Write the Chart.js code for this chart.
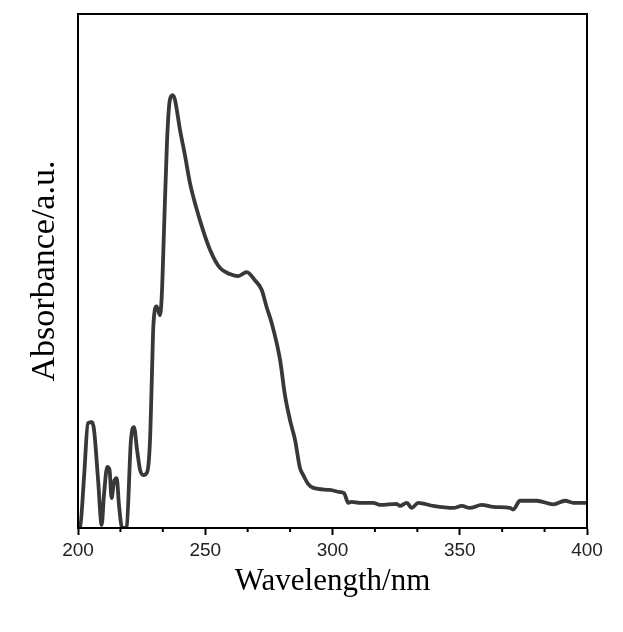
<!DOCTYPE html>
<html>
<head>
<meta charset="utf-8">
<script src="https://cdn.jsdelivr.net/npm/chart.js@4.4.1/dist/chart.umd.min.js"></script>
<style>
    body { margin: 0; background: #fff; }
    #wrap { width: 623px; height: 632px; }
</style>
</head>
<body>
<div id="wrap"><canvas id="absChart" width="623" height="632"></canvas></div>
<script>
const wavelength = [200, 200.8, 202.4, 203.9, 205.5, 206.3, 207.9, 209.3, 210.2, 211.5, 212.4, 213.2, 214.1, 215.2,
    216.1, 217.2, 218.1, 219.1, 220.8, 222.0, 223.2, 224.4, 225.7, 227.2, 228.3, 229.1, 229.6, 230.9, 232.2, 232.9,
    233.8, 235.0, 236.1, 237.2, 238.1, 240.1, 242.0, 244.0, 247.9, 251.9, 255.8, 259.7, 263.0, 266.3, 269.5, 272.2,
    274.1, 276.1, 279.4, 281.3, 283.3, 285.3, 287.2, 288.5, 290.4, 292.5, 299.0, 302.9, 304.5, 306.2, 307.5, 310.8,
    315.9, 318.7, 325.2, 326.5, 329.2, 331.1, 333.7, 339.6, 347.5, 350.8, 354.0, 358.6, 363.2, 369.7, 371.0, 373.7,
    380.2, 386.8, 391.4, 394.6, 399.2, 400];
const absorbance = [0, 0.2, 10.1, 20.4, 20.6, 19.1, 9.3, 0.6, 6.4, 11.9, 11.3, 5.8, 8.9, 9.7,
    4.5, 0.2, 0, 0.2, 17.1, 19.6, 15.2, 11.3, 10.3, 10.9, 17.1, 30.7, 39.2, 43.1, 41.4, 45.0,
    58.0, 75.5, 83.3, 84.2, 83.3, 77.4, 72.6, 67.1, 59.9, 54.1, 50.6, 49.4, 49.0, 49.8, 48.2, 46.3,
    43.0, 39.9, 32.7, 25.9, 21.0, 17.1, 11.7, 10.3, 8.6, 7.8, 7.4, 7.0, 6.8, 4.9, 5.1, 4.9,
    4.9, 4.5, 4.7, 4.3, 4.9, 3.9, 4.9, 4.3, 3.9, 4.3, 3.9, 4.5, 4.1, 3.9, 3.6, 5.3,
    5.3, 4.6, 5.3, 4.9, 4.9, 4.9];
const xTicks = [200, 250, 300, 350, 400];
const xMinorTicks = [216.67, 233.33, 266.67, 283.33, 316.67, 333.33, 366.67, 383.33];

const points = wavelength.map((w, i) => ({ x: w, y: absorbance[i] }));

// Marco y marcas menores
const framePlugin = {
    id: "frame",
    afterDraw(chart) {
        const { ctx, chartArea: a, scales } = chart;
        ctx.save();
        ctx.strokeStyle = "#000";
        ctx.lineWidth = 2;
        ctx.strokeRect(a.left, a.top, a.right - a.left, a.bottom - a.top);
        ctx.beginPath();
        xMinorTicks.forEach(v => {
            const px = scales.x.getPixelForValue(v);
            ctx.moveTo(px, a.bottom);
            ctx.lineTo(px, a.bottom + 4);
        });
        ctx.stroke();
        ctx.restore();
    }
};

new Chart(document.getElementById("absChart").getContext("2d"), {
    type: "line",
    data: {
        datasets: [{
            data: points,
            borderColor: "#383838",
            borderWidth: 3.8,
            pointRadius: 0,
            cubicInterpolationMode: "monotone",
            fill: false
        }]
    },
    options: {
        responsive: false,
        animation: false,
        layout: { padding: { left: 0, right: 36, top: 14, bottom: 0 } },
        plugins: { legend: { display: false }, tooltip: { enabled: false } },
        scales: {
            x: {
                type: "linear",
                min: 200,
                max: 400,
                afterFit: s => { s.height = 104; },
                afterBuildTicks: s => { s.ticks = xTicks.map(v => ({ value: v })); },
                grid: { drawOnChartArea: false, drawTicks: true, tickLength: 7, tickColor: "#000", tickWidth: 2 },
                border: { display: true, color: "#000", width: 2 },
                ticks: { color: "#222", padding: 4, font: { family: "Liberation Sans", size: 19 }, maxRotation: 0 },
                title: {
                    display: true,
                    text: "Wavelength/nm",
                    color: "#000",
                    font: { family: "Liberation Serif", size: 31 },
                    padding: { top: 0, bottom: 32 }
                }
            },
            y: {
                min: 0,
                max: 100,
                afterFit: s => { s.width = 78; },
                grid: { drawOnChartArea: false, drawTicks: false },
                border: { display: true, color: "#000", width: 2 },
                ticks: { display: false },
                title: {
                    display: true,
                    text: "Absorbance/a.u.",
                    color: "#000",
                    font: { family: "Liberation Serif", size: 34 },
                    padding: { top: 25, bottom: 0 }
                }
            }
        }
    },
    plugins: [framePlugin]
});
</script>
</body>
</html>
